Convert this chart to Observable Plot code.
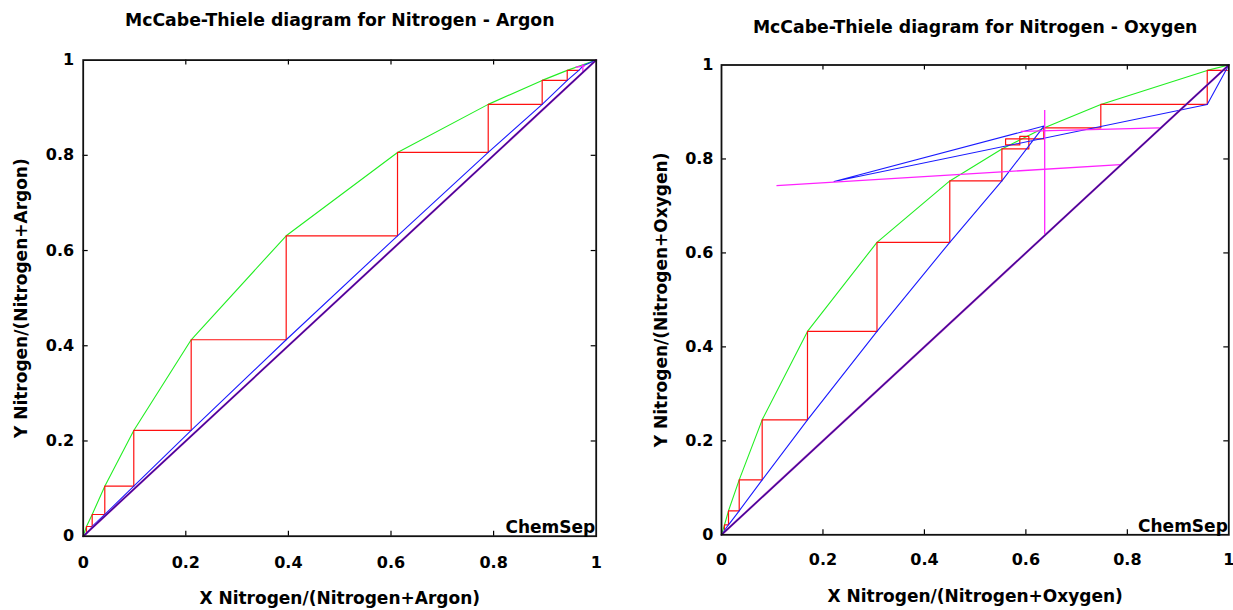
<!DOCTYPE html>
<html><head><meta charset="utf-8">
<script src="https://cdn.jsdelivr.net/npm/d3@7"></script>
<script src="https://cdn.jsdelivr.net/npm/@observablehq/plot@0.6"></script>
<style>
html,body{margin:0;padding:0;background:#fff;}
#wrap{display:flex;width:1233px;height:610px;overflow:hidden;}
#wrap svg{overflow:visible;}
#wrap svg text{font-weight:bold;}
</style></head><body><div id="wrap"></div>
<script>
// ---------- shared ----------
const tickValues = [0, 0.2, 0.4, 0.6, 0.8, 1];
const tickLabels = ["0", "0.2", "0.4", "0.6", "0.8", "1"];
const innerTicks = [0.2, 0.4, 0.6, 0.8];
const diagX = [0, 1];
const diagY = [0, 1];

// ---------- Nitrogen - Argon ----------
const arTitle = "McCabe-Thiele diagram for Nitrogen - Argon";
const arXLabel = "X Nitrogen/(Nitrogen+Argon)";
const arYLabel = "Y Nitrogen/(Nitrogen+Argon)";
const arEqX = [0, 0.0064, 0.0175, 0.0421, 0.0986, 0.2105, 0.3957, 0.6127, 0.7895, 0.8947, 0.9435, 1];
const arEqY = [0, 0.0204, 0.0456, 0.105, 0.2221, 0.4126, 0.631, 0.806, 0.907, 0.9574, 0.9784, 1];
const arOpX = [0, 0.0064, 0.0175, 0.0421, 0.0986, 0.2105, 0.3957, 0.6127, 0.7895, 0.8947, 0.9435, 0.9661, 0.9758, 1];
const arOpY = [0, 0.005, 0.0204, 0.0456, 0.105, 0.2221, 0.4126, 0.631, 0.806, 0.907, 0.9574, 0.9784, 0.9889, 1];
const arStepX = [0.9661, 0.9435, 0.9435, 0.8947, 0.8947, 0.7895, 0.7895, 0.6127, 0.6127, 0.3957, 0.3957, 0.2105, 0.2105, 0.0986, 0.0986, 0.0421, 0.0421, 0.0175, 0.0175, 0.0064, 0.0064];
const arStepY = [0.9784, 0.9784, 0.9574, 0.9574, 0.907, 0.907, 0.806, 0.806, 0.631, 0.631, 0.4126, 0.4126, 0.2221, 0.2221, 0.105, 0.105, 0.0456, 0.0456, 0.0204, 0.0204, 0.005];
const arFeedX1 = [0.960, 0.974];
const arFeedY1 = [0.985, 0.974];
const arFeedX2 = [0.978, 0.974];
const arFeedY2 = [0.988, 0.992];

// ---------- Nitrogen - Oxygen ----------
const oxTitle = "McCabe-Thiele diagram for Nitrogen - Oxygen";
const oxXLabel = "X Nitrogen/(Nitrogen+Oxygen)";
const oxYLabel = "Y Nitrogen/(Nitrogen+Oxygen)";
const oxEqX = [0, 0.0059, 0.0138, 0.0349, 0.0802, 0.1695, 0.3065, 0.45, 0.5527, 0.6353, 0.7477, 0.9575, 1];
const oxEqY = [0, 0.0213, 0.0511, 0.117, 0.2447, 0.433, 0.6226, 0.7532, 0.8213, 0.866, 0.916, 0.9885, 1];
const oxOpX = [0, 0.0138, 0.0349, 0.0802, 0.1695, 0.3065, 0.45, 0.5527, 0.6357, 0.222, 0.9575, 1];
const oxOpY = [0, 0.0213, 0.0511, 0.117, 0.2447, 0.433, 0.6226, 0.7532, 0.870, 0.752, 0.916, 1];
const oxStepX = [0.997, 0.9575, 0.9575, 0.7477, 0.7477, 0.6353, 0.6353, 0.588, 0.588, 0.560, 0.560, 0.588, 0.588, 0.6058, 0.6058, 0.5527, 0.5527, 0.45, 0.45, 0.3065, 0.3065, 0.1695, 0.1695, 0.0802, 0.0802, 0.0349, 0.0349, 0.0138, 0.0138, 0.0059, 0.0059];
const oxStepY = [0.9885, 0.9885, 0.916, 0.916, 0.866, 0.866, 0.8426, 0.8426, 0.8298, 0.8298, 0.8426, 0.8426, 0.848, 0.848, 0.8213, 0.8213, 0.7532, 0.7532, 0.6226, 0.6226, 0.433, 0.433, 0.2447, 0.2447, 0.117, 0.117, 0.0511, 0.0511, 0.0213, 0.0213, 0.0113];
const oxFeedX1 = [0.1084, 0.5902, 0.6371];
const oxFeedY1 = [0.7432, 0.8587, 0.6404];
const oxFeedX2 = [0.7865, 0.8638, 0.6371];
const oxFeedY2 = [0.7879, 0.866, 0.9043];

// ---------- drawing ----------
const pts = (xs, ys) => xs.map((x, i) => ({x, y: ys[i]}));
const segs = (x1, y1, x2, y2) => x1.map((v, i) => ({x1: v, y1: y1[i], x2: x2[i], y2: y2[i]}));
const fmt = d => tickLabels[tickValues.indexOf(d)];
const FONT = "'DejaVu Sans', 'Liberation Sans', sans-serif";

function chart(c) {
  const H = 610;
  const ph = H - c.mt - c.mb, pw = c.width - c.ml - c.mr;
  return Plot.plot({
    width: c.width, height: H,
    marginLeft: c.ml, marginRight: c.mr, marginTop: c.mt, marginBottom: c.mb,
    x: {domain: [0, 1]}, y: {domain: [0, 1]},
    style: {fontFamily: FONT, fontWeight: "bold", background: "#fff", color: "#000"},
    marks: [
      Plot.line(pts(c.eqX, c.eqY), {x: "x", y: "y", stroke: "#22ee22", strokeWidth: 1.1}),
      Plot.line(pts(c.stepX, c.stepY), {x: "x", y: "y", stroke: "#ff1010", strokeWidth: 1.2}),
      Plot.line(pts(c.opX, c.opY), {x: "x", y: "y", stroke: "#1a1aff", strokeWidth: 1.1}),
      Plot.link(segs(c.fX1, c.fY1, c.fX2, c.fY2), {x1: "x1", y1: "y1", x2: "x2", y2: "y2", stroke: "#ff22ff", strokeWidth: 1.3}),
      Plot.line(pts(diagX, diagY), {x: "x", y: "y", stroke: "#c040c0", strokeWidth: 2.1}),
      Plot.line(pts(diagX, diagY), {x: "x", y: "y", stroke: "#3a0898", strokeWidth: 1.3}),
      Plot.tickX(innerTicks, {x: d => d, insetTop: ph - 5, stroke: "#000", strokeWidth: 1.2}),
      Plot.tickX(innerTicks, {x: d => d, insetBottom: ph - 5, stroke: "#000", strokeWidth: 1.2}),
      Plot.tickY(innerTicks, {y: d => d, insetRight: pw - 5, stroke: "#000", strokeWidth: 1.2}),
      Plot.tickY(innerTicks, {y: d => d, insetLeft: pw - 5, stroke: "#000", strokeWidth: 1.2}),
      Plot.frame({stroke: "#111", strokeWidth: 1.8}),
      Plot.axisX({ticks: tickValues, tickFormat: fmt, tickSize: 0, tickPadding: c.xPad, fontSize: 16, label: null}),
      Plot.axisY({ticks: tickValues, tickFormat: fmt, tickSize: 0, tickPadding: c.yPad, fontSize: 16, label: null}),
      Plot.text([c.title], {text: d => d, frameAnchor: "top", textAnchor: "middle", dy: c.titleDy, lineAnchor: "middle", fontSize: 17.3, fill: "#000"}),
      Plot.text([c.xLabel], {text: d => d, frameAnchor: "bottom", textAnchor: "middle", dy: c.xLabDy, lineAnchor: "middle", fontSize: 17, fill: "#000"}),
      Plot.text([c.yLabel], {text: d => d, frameAnchor: "left", textAnchor: "middle", dx: c.yLabDx, rotate: -90, lineAnchor: "middle", fontSize: 17, fill: "#000"}),
      Plot.text(["ChemSep"], {text: d => d, frameAnchor: "bottom-right", textAnchor: "end", lineAnchor: "bottom", dx: -1, dy: -3, fontSize: 17, fill: "#000"})
    ]
  });
}

const wrap = document.getElementById("wrap");
wrap.appendChild(chart({
  width: 616, ml: 82.7, mr: 20.3, mt: 59.6, mb: 74.3, xPad: 20, yPad: 9,
  titleDy: -39.6, xLabDy: 62.5, yLabDx: -61.7,
  title: arTitle, xLabel: arXLabel, yLabel: arYLabel,
  eqX: arEqX, eqY: arEqY, opX: arOpX, opY: arOpY, stepX: arStepX, stepY: arStepY,
  fX1: arFeedX1, fY1: arFeedY1, fX2: arFeedX2, fY2: arFeedY2
}));
wrap.appendChild(chart({
  width: 617, ml: 105, mr: 4.7, mt: 64.5, mb: 75.7, xPad: 19, yPad: 8,
  titleDy: -37.5, xLabDy: 62, yLabDx: -60,
  title: oxTitle, xLabel: oxXLabel, yLabel: oxYLabel,
  eqX: oxEqX, eqY: oxEqY, opX: oxOpX, opY: oxOpY, stepX: oxStepX, stepY: oxStepY,
  fX1: oxFeedX1, fY1: oxFeedY1, fX2: oxFeedX2, fY2: oxFeedY2
}));
</script></body></html>
